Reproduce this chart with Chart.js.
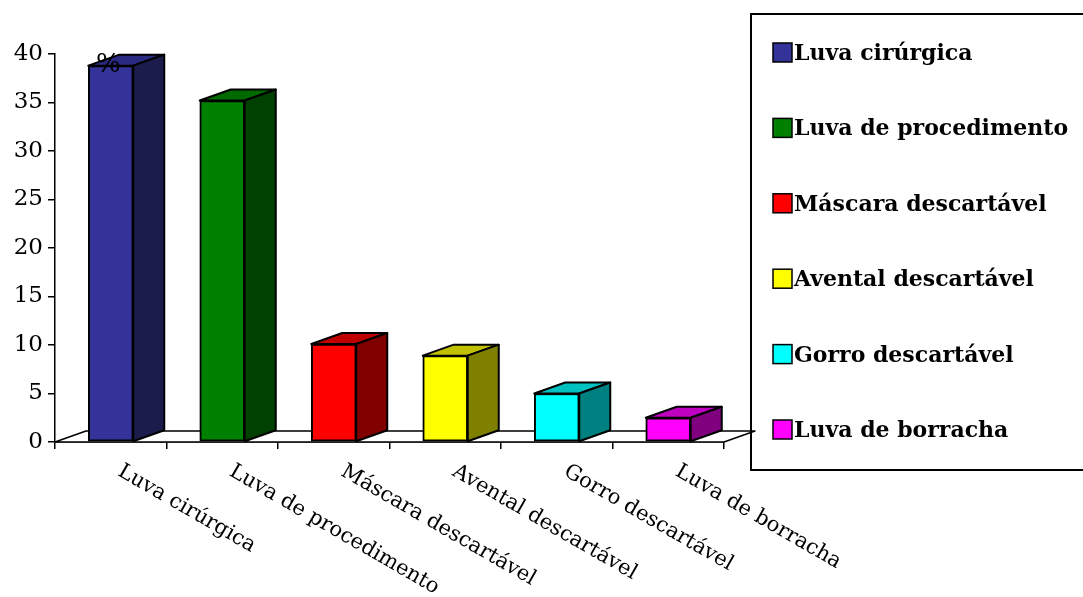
<!DOCTYPE html>
<html>
<head>
<meta charset="utf-8">
<script src="https://cdn.jsdelivr.net/npm/chart.js@4.4.0/dist/chart.umd.min.js"></script>
<style>
  html, body { margin: 0; padding: 0; background: #fff; }
  #wrap { width: 1083px; height: 597px; }
</style>
</head>
<body>
<div id="wrap"><canvas id="barChart"></canvas></div>
<script>
const categories = ['Luva cirúrgica', 'Luva de procedimento', 'Máscara descartável', 'Avental descartável', 'Gorro descartável', 'Luva de borracha'];
const percentages = [38.8, 35.2, 10.1, 8.9, 5.0, 2.5];
const yTickValues = [0, 5, 10, 15, 20, 25, 30, 35, 40];
const axisUnit = '%';

const frontColors = ['#333399', '#008000', '#ff0000', '#ffff00', '#00ffff', '#ff00ff'];
const topColors = ['#2a2a80', '#006a00', '#c00000', '#c0c000', '#00c0c0', '#c000c0'];
const sideColors = ['#1c1c4c', '#004000', '#800000', '#808000', '#008080', '#800080'];

// 3D depth offset (Excel style)
const DX = 31, DY = -11;
const SERIF = 'DejaVu Serif';

Chart.defaults.font.family = SERIF;
Chart.defaults.color = '#000';

function poly(ctx, pts, fill) {
    ctx.beginPath();
    ctx.moveTo(pts[0][0], pts[0][1]);
    for (let k = 1; k < pts.length; k++) ctx.lineTo(pts[k][0], pts[k][1]);
    ctx.closePath();
    ctx.fillStyle = fill;
    ctx.fill();
    ctx.stroke();
}

const bars3d = {
    id: 'bars3d',
    beforeDatasetsDraw(chart) {
        const { ctx, chartArea: a } = chart;
        ctx.save();
        ctx.lineWidth = 1.5;
        ctx.strokeStyle = '#000';
        ctx.lineJoin = 'round';
        poly(ctx, [[a.left, a.bottom], [a.right, a.bottom], [a.right + DX, a.bottom + DY], [a.left + DX, a.bottom + DY]], '#fff');
        ctx.restore();
    },
    afterDatasetsDraw(chart) {
        const { ctx } = chart;
        const meta = chart.getDatasetMeta(0);
        ctx.save();
        ctx.lineWidth = 2;
        ctx.strokeStyle = '#000';
        ctx.lineJoin = 'round';
        meta.data.forEach((bar, i) => {
            const { x, y, base, width } = bar.getProps(['x', 'y', 'base', 'width'], true);
            const l = x - width / 2, r = x + width / 2;
            poly(ctx, [[l, y], [r, y], [r + DX, y + DY], [l + DX, y + DY]], topColors[i]);
            poly(ctx, [[r, y], [r + DX, y + DY], [r + DX, base + DY], [r, base]], sideColors[i]);
        });
        ctx.restore();
    },
    afterDraw(chart) {
        const { ctx, chartArea: a } = chart;
        const xs = chart.scales.x, ys = chart.scales.y;
        ctx.save();
        // unit label at the top of the value axis
        ctx.fillStyle = '#000';
        ctx.font = '26px "' + SERIF + '"';
        ctx.textAlign = 'left';
        ctx.textBaseline = 'middle';
        ctx.fillText(axisUnit, a.left + 41, ys.getPixelForValue(40) + 11);

        // slanted category labels
        ctx.font = '21px "' + SERIF + '"';
        ctx.textBaseline = 'top';
        categories.forEach((c, i) => {
            const px = xs.getPixelForValue(i);
            ctx.save();
            ctx.translate(px + 14, a.bottom + 19);
            ctx.rotate(30 * Math.PI / 180);
            ctx.fillText(c, 0, 0);
            ctx.restore();
        });

        // legend box
        ctx.lineWidth = 2;
        ctx.strokeStyle = '#000';
        ctx.strokeRect(751, 14, 360, 456);
        ctx.font = 'bold 22px "' + SERIF + '"';
        ctx.textBaseline = 'alphabetic';
        categories.forEach((c, i) => {
            const top = 43 + i * 75.4;
            ctx.fillStyle = frontColors[i];
            ctx.fillRect(773, top, 19, 19);
            ctx.lineWidth = 1.5;
            ctx.strokeRect(773, top, 19, 19);
            ctx.fillStyle = '#000';
            ctx.fillText(c, 794, top + 17);
        });
        ctx.restore();
    }
};

const CHART = document.getElementById('barChart');
let barChart = new Chart(CHART, {
    type: 'bar',
    data: {
        labels: categories,
        datasets: [{
            label: '%',
            data: percentages,
            backgroundColor: frontColors,
            borderColor: '#000',
            borderWidth: 2,
            borderSkipped: false,
            barThickness: 45
        }]
    },
    options: {
        responsive: true,
        maintainAspectRatio: false,
        animation: false,
        layout: { padding: { left: 0, right: 359, top: 54, bottom: 0 } },
        plugins: { legend: { display: false }, tooltip: { enabled: false } },
        scales: {
            x: {
                ticks: { display: false },
                grid: { display: true, drawOnChartArea: false, tickLength: 7, color: '#000', lineWidth: 1.5, offset: true },
                border: { display: true, color: '#000', width: 1.5 },
                afterFit(scale) { scale.height = 597 - 442; }
            },
            y: {
                min: 0,
                max: 40,
                afterBuildTicks(scale) { scale.ticks = yTickValues.map(v => ({ value: v })); },
                ticks: { font: { size: 23 }, color: '#000', padding: 5 },
                grid: { drawOnChartArea: false, tickLength: 7, color: '#000', lineWidth: 1.5 },
                border: { display: true, color: '#000', width: 1.5 },
                afterFit(scale) { scale.width = 55; }
            }
        }
    },
    plugins: [bars3d]
});
</script>
</body>
</html>
